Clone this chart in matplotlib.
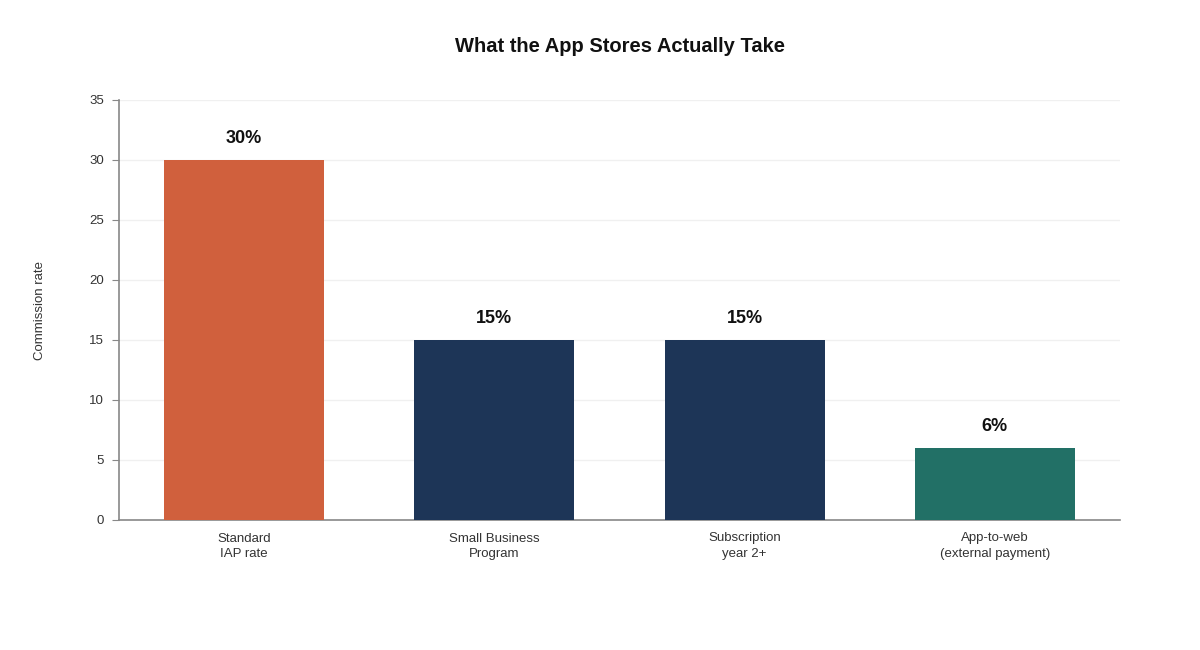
import matplotlib.pyplot as plt

plt.rcParams['font.family'] = ['Liberation Sans', 'DejaVu Sans']

# Datos
categories = ["Standard\nIAP rate", "Small Business\nProgram", "Subscription\nyear 2+", "App-to-web\n(external payment)"]
rates = [30, 15, 15, 6]
labels = ["30%", "15%", "15%", "6%"]
colors = ["#D0603D", "#1D3557", "#1D3557", "#227066"]

fig = plt.figure(figsize=(12, 6.5), dpi=100)
ax = fig.add_axes([119/1200, 0.2, 1001/1200, 420/650])

x = range(len(categories))
ax.bar(x, rates, width=0.64, color=colors, zorder=3)
for xi, v, lab in zip(x, rates, labels):
    ax.text(xi, v + 1.1, lab, ha='center', va='bottom', fontsize=13,
            fontweight='bold', color='#111111')

ax.set_xlim(-0.5, 3.5)
ax.set_ylim(0, 35)
ax.set_yticks(range(0, 36, 5))
ax.set_xticks(list(x))
ax.set_xticklabels(categories, fontsize=9.5, color='#333333', linespacing=1.35)
ax.tick_params(axis='x', length=0, pad=9)
ax.tick_params(axis='y', length=5, color='#888888', labelsize=9.5, labelcolor='#333333', pad=6)
ax.grid(axis='y', color='#f0f0f0', linewidth=1, zorder=0)

for s in ['top', 'right']:
    ax.spines[s].set_visible(False)
ax.spines['left'].set_color('#888888')
ax.spines['bottom'].set_color('#888888')
ax.spines['left'].set_linewidth(1.2)
ax.spines['bottom'].set_linewidth(1.2)

fig.text(40/1200, 1 - 310/650, "Commission rate", rotation=90, ha='center', va='center',
         fontsize=9.5, color='#333333')
fig.text(620/1200, 1 - 47/650, "What the App Stores Actually Take", ha='center', va='center',
         fontsize=14.5, fontweight='bold', color='#111111')

fig.savefig("out.png", dpi=100)
plt.close()
